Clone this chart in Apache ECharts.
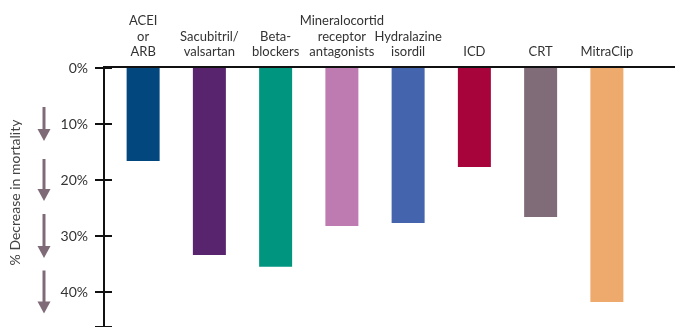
<!DOCTYPE html>
<html>
<head>
<meta charset="utf-8">
<script src="https://cdn.jsdelivr.net/npm/echarts@6/dist/echarts.min.js"></script>
<style>
  html, body { margin: 0; padding: 0; background: #fff; }
  #chart { width: 675px; height: 327px; }
</style>
</head>
<body>
<div id="chart"></div>
<script>
// therapies and their % decrease in mortality
var therapies = ['ACEI\nor\nARB', 'Sacubitril/\nvalsartan', 'Beta-\nblockers', 'Mineralocortid\nreceptor\nantagonists', 'Hydralazine\nisordil', 'ICD', 'CRT', 'MitraClip'];
var decrease = [16.6, 33.4, 35.5, 28.2, 27.7, 17.7, 26.6, 41.8];
var barColors = ['#03477f', '#59246e', '#00957f', '#be7bb2', '#4465ae', '#a8043c', '#806c78', '#eeaa6c'];
var yTicks = [10, 20, 30, 40];

var arrowColor = '#7f6b77';
var font = 'Lato, "Noto Sans", sans-serif';

var chart = echarts.init(document.getElementById('chart'));

var option = {
  animation: false,
  grid: { left: 110, right: 35, top: 68, bottom: 0, containLabel: false },
  xAxis: {
    type: 'category',
    position: 'top',
    data: therapies,
    axisLine: { show: false },
    axisTick: { show: false },
    axisLabel: {
      interval: 0,
      margin: 8,
      fontFamily: font,
      fontSize: 13,
      lineHeight: 15.5,
      color: '#333'
    }
  },
  yAxis: [{
    type: 'value',
    inverse: true,
    min: 0,
    max: 46.25,
    interval: 10,
    offset: 6,
    name: '% Decrease in mortality',
    nameLocation: 'middle',
    nameRotate: 90,
    nameGap: 82,
    nameTextStyle: { fontFamily: font, fontSize: 14, color: '#444', padding: [0, 0, 0, 10] },
    splitLine: { show: false },
    axisLine: { show: true, lineStyle: { color: '#111', width: 2 } },
    axisTick: { show: true, length: 9, lineStyle: { color: '#111', width: 2 } },
    axisLabel: {
      margin: 16,
      fontFamily: font,
      fontSize: 14,
      color: '#333',
      formatter: function (v) { return v % 10 === 0 ? v + '%' : ''; }
    }
  }, {
    type: 'value',
    position: 'left',
    inverse: true,
    min: 0,
    max: 46.25,
    interval: 10,
    offset: 6,
    splitLine: { show: false },
    axisLine: { show: false },
    axisTick: { show: true, inside: true, length: 8, lineStyle: { color: '#111', width: 2 } },
    axisLabel: { show: false }
  }],
  series: [{
    type: 'bar',
    barWidth: 33,
    data: decrease.map(function (v, i) {
      return { value: v, itemStyle: { color: barColors[i] } };
    })
  }]
};

chart.setOption(option);

// top baseline and the down arrows beside the tick labels
var graphics = [{
  type: 'line',
  shape: { x1: 103, y1: 67, x2: 675, y2: 67 },
  style: { stroke: '#111', lineWidth: 2 }
}];
var arrowLen = [34, 42, 44, 43];
yTicks.forEach(function (t, i) {
  var cy = chart.convertToPixel({ yAxisIndex: 0 }, t);
  var top = cy - arrowLen[i] / 2;
  var bottom = cy + arrowLen[i] / 2;
  var x = 44;
  graphics.push({
    type: 'rect',
    shape: { x: x - 1.5, y: top, width: 3, height: arrowLen[i] - 11 },
    style: { fill: arrowColor }
  });
  graphics.push({
    type: 'polygon',
    shape: { points: [[x - 6.5, bottom - 12], [x + 6.5, bottom - 12], [x, bottom]] },
    style: { fill: arrowColor }
  });
});
chart.setOption({ graphic: graphics });
</script>
</body>
</html>
